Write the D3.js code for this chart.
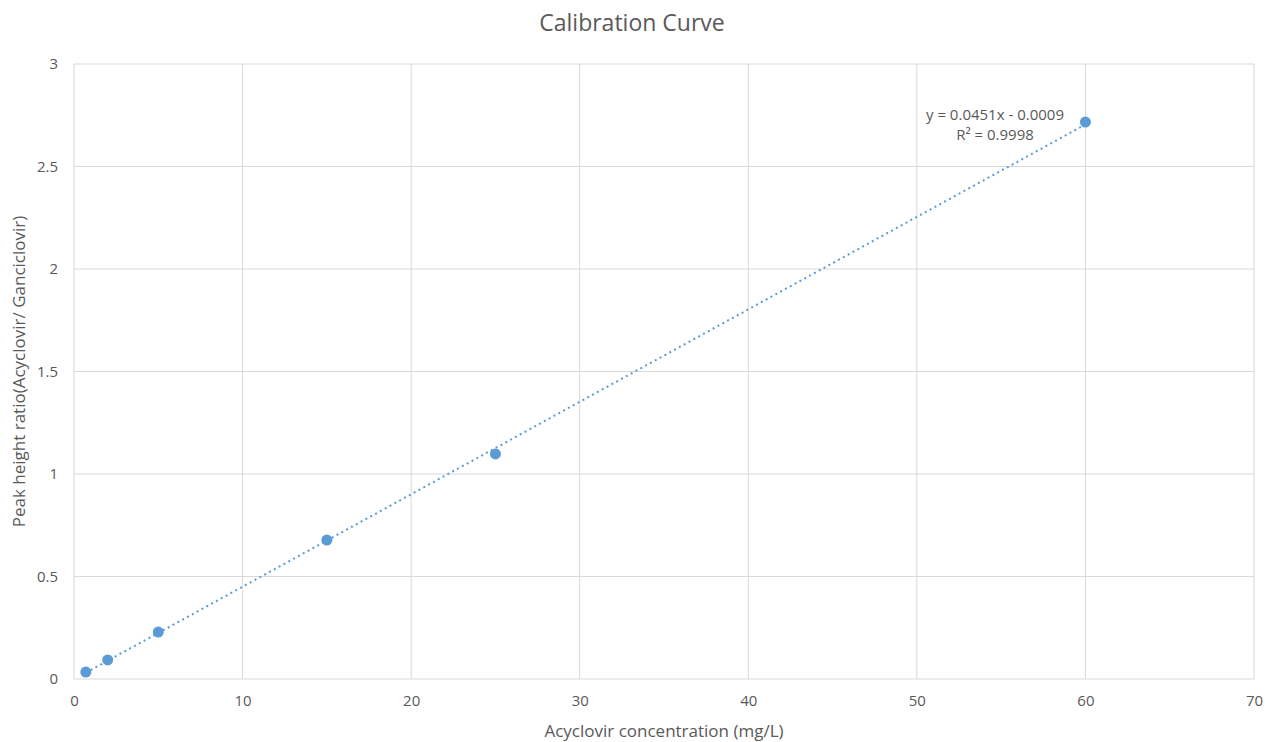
<!DOCTYPE html>
<html><head><meta charset="utf-8">
<script src="https://cdn.jsdelivr.net/npm/d3@7"></script>
<style>body{margin:0;background:#fff;} text{font-family:"Open Sans","Liberation Sans",sans-serif;fill:#595959;}</style>
</head><body>
<svg id="c" width="1265" height="742"></svg>
<script>
const concentrations = [0.7, 2, 5, 15, 25, 60];
const ratios = [0.034, 0.093, 0.229, 0.678, 1.098, 2.717];
const xTicks = [0, 10, 20, 30, 40, 50, 60, 70];
const yTicks = [0, 0.5, 1, 1.5, 2, 2.5, 3];
const slope = 0.0451, intercept = -0.0009;
const eqLabel = "y = 0.0451x - 0.0009";
const r2Label = "R² = 0.9998";

const svg = d3.select("#c");
const L = 74, R = 1254, T = 64, B = 679;
const x = d3.scaleLinear().domain([0, 70]).range([L, R]);
const y = d3.scaleLinear().domain([0, 3]).range([B, T]);

const g = svg.append("g");
g.selectAll(".vg").data(xTicks).enter().append("line")
  .attr("x1", d => x(d)).attr("x2", d => x(d)).attr("y1", T).attr("y2", B)
  .attr("stroke", "#d9d9d9").attr("stroke-width", 1);
g.selectAll(".hg").data(yTicks).enter().append("line")
  .attr("x1", L).attr("x2", R).attr("y1", d => y(d)).attr("y2", d => y(d))
  .attr("stroke", "#d9d9d9").attr("stroke-width", 1);

const xAxis = svg.append("g").attr("transform", `translate(0,${B})`)
  .call(d3.axisBottom(x).tickValues(xTicks).tickSize(0).tickPadding(16));
xAxis.select(".domain").remove();
xAxis.selectAll("text").style("font-size", "15px").attr("fill", "#595959");
const yAxis = svg.append("g").attr("transform", `translate(${L},0)`)
  .call(d3.axisLeft(y).tickValues(yTicks).tickSize(0).tickPadding(16).tickFormat(d => String(d)));
yAxis.select(".domain").remove();
yAxis.selectAll("text").style("font-size", "15px").attr("fill", "#595959");

const x0 = d3.min(concentrations), x1 = d3.max(concentrations);
svg.append("line")
  .attr("x1", x(x0)).attr("y1", y(slope * x0 + intercept))
  .attr("x2", x(x1)).attr("y2", y(slope * x1 + intercept))
  .attr("stroke", "#5b9bd5").attr("stroke-width", 2)
  .attr("stroke-dasharray", "2,3.5");

svg.selectAll(".pt").data(concentrations).enter().append("circle")
  .attr("cx", d => x(d)).attr("cy", (d, i) => y(ratios[i]))
  .attr("r", 5.5).attr("fill", "#5b9bd5");

svg.append("text").attr("x", 995).attr("y", 120).attr("text-anchor", "middle")
  .style("font-size", "15px").text(eqLabel);
svg.append("text").attr("x", 995).attr("y", 140).attr("text-anchor", "middle")
  .style("font-size", "15px").text(r2Label);

svg.append("text").attr("x", 632).attr("y", 31).attr("text-anchor", "middle")
  .style("font-size", "23px").text("Calibration Curve");
svg.append("text").attr("x", (L + R) / 2).attr("y", 737).attr("text-anchor", "middle")
  .style("font-size", "17px").text("Acyclovir concentration (mg/L)");
svg.append("text").attr("transform", `translate(25,${(T + B) / 2}) rotate(-90)`)
  .attr("text-anchor", "middle").style("font-size", "17px")
  .text("Peak height ratio(Acyclovir/ Ganciclovir)");
</script>
</body></html>
